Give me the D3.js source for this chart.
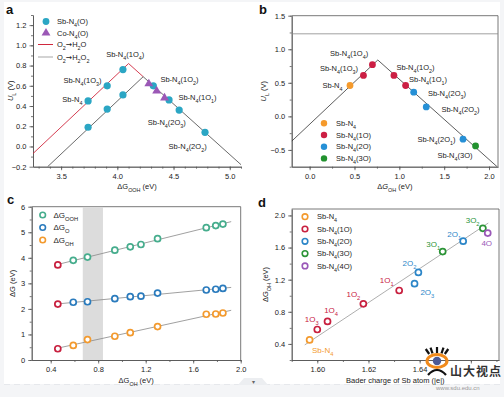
<!DOCTYPE html>
<html>
<head>
<meta charset="utf-8">
<script src="https://cdn.jsdelivr.net/npm/d3@7"></script>
<style>
  html, body { margin: 0; padding: 0; background: #f4f5f7; }
  svg { display: block; font-family: "Liberation Sans", Arial, sans-serif; }
</style>
</head>
<body>
<div id="chart"></div>
<script>
// ---------- panel a : U_L vs dG_OOH ----------
const aSbX = [3.74, 3.74, 3.91, 3.91, 4.05, 4.05, 4.32, 4.46, 4.55, 4.78];
const aSbY = [0.45, 0.19, 0.60, 0.37, 0.76, 0.51, 0.60, 0.46, 0.36, 0.14];
const aCoX = [4.28, 4.35, 4.42];
const aCoY = [0.62, 0.55, 0.48];
const aRedLine = [[3.25, -0.07], [4.10, 0.82], [4.23, 0.69]];
const aGrayLine = [[3.38, -0.20], [4.23, 0.69], [5.10, -0.18]];
const aLabels = [
  ["Sb-N_4(1O_4)", 4.07, 0.915], ["Sb-N_4(1O_3)", 3.69, 0.657], ["Sb-N_4", 3.60, 0.47],
  ["Sb-N_4(1O_2)", 4.553, 0.667], ["Sb-N_4(1O_1)", 4.713, 0.49],
  ["Sb-N_4(2O_3)", 4.44, 0.242], ["Sb-N_4(2O_2)", 4.625, 0.005]
];

// ---------- panel b : U_L vs dG_OH ----------
const bX = [0.45, 0.60, 0.70, 0.94, 1.07, 1.16, 1.30, 1.71, 1.85];
const bY = [0.46, 0.61, 0.77, 0.61, 0.46, 0.36, 0.14, -0.34, -0.44];
const bGroup = ["N4", "1O", "1O", "1O", "1O", "2O", "2O", "2O", "3O"];
const bLine = [[-0.2, -0.37], [0.76, 0.84], [2.09, -0.75]];
const bRef = 1.23;
const bLabels = [
  ["Sb-N_4(1O_4)", 0.44, 0.944], ["Sb-N_4(1O_3)", 0.327, 0.72], ["Sb-N_4", 0.255, 0.468],
  ["Sb-N_4(1O_2)", 1.18, 0.736], ["Sb-N_4(1O_1)", 1.32, 0.557], ["Sb-N_4(2O_3)", 1.531, 0.348],
  ["Sb-N_4(2O_2)", 1.682, 0.11], ["Sb-N_4(2O_1)", 1.414, -0.337], ["Sb-N_4(3O)", 1.62, -0.576]
];
const bLegend = [["N4", "Sb-N_4"], ["1O", "Sb-N_4(1O)"], ["2O", "Sb-N_4(2O)"], ["3O", "Sb-N_4(3O)"]];

// ---------- panel c : dG vs dG_OH ----------
const cX = [0.46, 0.59, 0.71, 0.94, 1.07, 1.16, 1.30, 1.71, 1.79, 1.85];
const cOOH = [3.72, 3.90, 4.03, 4.30, 4.43, 4.52, 4.75, 5.18, 5.26, 5.32];
const cO = [2.19, 2.26, 2.28, 2.40, 2.48, 2.50, 2.62, 2.74, 2.77, 2.80];
const cOH = [0.44, 0.57, 0.80, 0.93, 1.07, null, 1.31, 1.79, 1.80, 1.84];
const cBand = [0.67, 0.84];
const cFitRange = [0.46, 1.92];

// ---------- panel d : dG_OH vs Bader charge ----------
const dX = [1.597, 1.600, 1.604, 1.618, 1.632, 1.638, 1.6395, 1.649, 1.657, 1.6647, 1.6666];
const dY = [0.45, 0.58, 0.68, 0.90, 1.065, 1.15, 1.29, 1.55, 1.68, 1.84, 1.78];
const dGroup = ["N4", "1O", "1O", "1O", "1O", "2O", "2O", "3O", "2O", "3O", "4O"];
const dLabels = [
  ["1O_3", "1O", 1.5978, 0.711], ["1O_4", "1O", 1.6054, 0.823], ["1O_2", "1O", 1.6141, 1.018],
  ["1O_1", "1O", 1.6271, 1.196], ["2O_2", "2O", 1.636, 1.404], ["2O_3", "2O", 1.643, 1.043],
  ["3O_1", "3O", 1.6453, 1.64], ["2O_1", "2O", 1.6535, 1.764], ["3O_2", "3O", 1.6607, 1.942],
  ["4O", "4O", 1.6662, 1.66], ["Sb-N_4", "N4", 1.6021, 0.325]
];
const dLine = [[1.5951, 0.388], [1.6668, 1.905]];
const dLegend = [["N4", "Sb-N_4"], ["1O", "Sb-N_4(1O)"], ["2O", "Sb-N_4(2O)"], ["3O", "Sb-N_4(3O)"], ["4O", "Sb-N_4(4O)"]];

const colB = { N4: "#f59a2c", "1O": "#cc1f44", "2O": "#2690d6", "3O": "#22922f", "4O": "#9a58b8" };
const colD = { N4: "#f39a2e", "1O": "#c8203f", "2O": "#2c86c8", "3O": "#2c9437", "4O": "#9a58b8" };
const teal = "#2ba6c4";
const axisCol = "#555";
const txtCol = "#222";

const W = 504, H = 397;
const svg = d3.select("#chart").append("svg").attr("width", W).attr("height", H);

// page backdrop
svg.append("rect").attr("x", 4).attr("y", 2).attr("width", 496).attr("height", 382).attr("fill", "#fff");
svg.append("line").attr("x1", 4).attr("x2", 500).attr("y1", 384.5).attr("y2", 384.5)
  .attr("stroke", "#e6e8ec").attr("stroke-dasharray", "6,4");
svg.append("path").attr("d", "M238,385 L244,378 L262,378 L268,385 Z").attr("fill", "#eceef1");
svg.append("text").attr("x", 253).attr("y", 384).attr("text-anchor", "middle")
  .style("font-size", "6px").style("fill", "#666").text("▾");

// subscript / italic text helper:  _x or _{xx} -> subscript, *x* -> italic
function rich(t, s) {
  const re = /_\{([^}]*)\}|_(.)|\*([^*]*)\*|(→)|([^_*→]+)/g;
  let m;
  while ((m = re.exec(s))) {
    if (m[1] !== undefined || m[2] !== undefined) {
      t.append("tspan").attr("baseline-shift", "sub").style("font-size", "72%").text(m[1] !== undefined ? m[1] : m[2]);
    } else if (m[3] !== undefined) {
      t.append("tspan").style("font-style", "italic").text(m[3]);
    } else if (m[4] !== undefined) {
      t.append("tspan").style("font-family", "DejaVu Sans").text(m[4]);
    } else {
      t.append("tspan").text(m[5]);
    }
  }
  return t;
}

function label(g, s, x, y, opt = {}) {
  const t = g.append("text").attr("x", x).attr("y", y)
    .attr("text-anchor", opt.anchor || "middle")
    .attr("dy", "0.35em")
    .style("font-size", (opt.size || 7.5) + "px")
    .style("fill", opt.color || txtCol);
  if (opt.rotate) t.attr("transform", `rotate(-90,${x},${y})`);
  return rich(t, s);
}

function panel(cfg) {
  const x = d3.scaleLinear().domain(cfg.xd).range(cfg.xr);
  const y = d3.scaleLinear().domain(cfg.yd).range(cfg.yr);
  const g = svg.append("g");
  const styleAxis = sel => {
    sel.selectAll("path, line").attr("stroke", axisCol).attr("stroke-width", 0.8);
    sel.selectAll("text").style("font-size", "7.5px").style("fill", txtCol)
      .style("font-family", "Liberation Sans, Arial, sans-serif");
  };
  // minor ticks
  g.append("g").attr("transform", `translate(0,${cfg.yr[0]})`)
    .call(d3.axisBottom(x).tickValues(cfg.xMinor).tickSize(2).tickSizeOuter(0).tickFormat(""))
    .call(styleAxis);
  g.append("g").attr("transform", `translate(${cfg.xr[0]},0)`)
    .call(d3.axisLeft(y).tickValues(cfg.yMinor).tickSize(2).tickSizeOuter(0).tickFormat(""))
    .call(styleAxis);
  // major ticks
  g.append("g").attr("transform", `translate(0,${cfg.yr[0]})`)
    .call(d3.axisBottom(x).tickValues(cfg.xMajor).tickSize(3.5).tickSizeOuter(0).tickPadding(3).tickFormat(cfg.xFmt))
    .call(styleAxis);
  g.append("g").attr("transform", `translate(${cfg.xr[0]},0)`)
    .call(d3.axisLeft(y).tickValues(cfg.yMajor).tickSize(3.5).tickSizeOuter(0).tickPadding(3).tickFormat(cfg.yFmt))
    .call(styleAxis);
  if (cfg.box) {
    g.append("path")
      .attr("d", `M${cfg.xr[0]},${cfg.yr[1]}H${cfg.xr[1]}V${cfg.yr[0]}`)
      .attr("fill", "none").attr("stroke", axisCol).attr("stroke-width", 0.8);
  }
  const clipId = "clip" + cfg.id;
  svg.append("clipPath").attr("id", clipId).append("rect")
    .attr("x", cfg.xr[0]).attr("y", cfg.yr[1])
    .attr("width", cfg.xr[1] - cfg.xr[0]).attr("height", cfg.yr[0] - cfg.yr[1]);
  const plot = svg.append("g").attr("clip-path", `url(#${clipId})`);
  const over = svg.append("g");
  // panel letter and axis titles
  svg.append("text").attr("x", cfg.letter[0]).attr("y", cfg.letter[1])
    .style("font-size", "13px").style("font-weight", "bold").style("fill", "#111").text(cfg.id);
  label(svg, cfg.xTitle, cfg.xTitlePos || (cfg.xr[0] + cfg.xr[1]) / 2, cfg.yr[0] + 20, { size: 7.5 });
  label(svg, cfg.yTitle, cfg.yTitleX, (cfg.yr[0] + cfg.yr[1]) / 2, { size: 7.5, rotate: true });
  return { x, y, plot, over };
}

const f1 = d3.format(".1f");
const line = (x, y) => d3.line().x(d => x(d[0])).y(d => y(d[1]));
const range = (a, b, s) => d3.range(Math.round((b - a) / s) + 1).map(i => +(a + i * s).toFixed(3));

// ================= PANEL A =================
{
  const p = panel({
    id: "a", xd: [3.25, 5.1], xr: [33, 241], yd: [-0.2, 1.3], yr: [166.7, 15],
    xMajor: [3.5, 4.0, 4.5, 5.0], xMinor: range(3.3, 5.1, 0.1),
    yMajor: range(-0.2, 1.2, 0.2), yMinor: range(-0.1, 1.3, 0.1),
    xFmt: f1, yFmt: f1, box: false, letter: [6, 14],
    xTitle: "ΔG_{OOH} (eV)", yTitle: "*U*_L (V)", yTitleX: 10
  });
  const { x, y, plot, over } = p;
  plot.append("path").datum(aRedLine).attr("d", line(x, y))
    .attr("fill", "none").attr("stroke", "#d0283e").attr("stroke-width", 0.9);
  plot.append("path").datum(aGrayLine).attr("d", line(x, y))
    .attr("fill", "none").attr("stroke", "#444").attr("stroke-width", 0.8);
  over.selectAll("circle.sb").data(aSbX).join("circle").attr("class", "sb")
    .attr("cx", d => x(d)).attr("cy", (d, i) => y(aSbY[i])).attr("r", 3.6).attr("fill", teal);
  over.selectAll("path.co").data(aCoX).join("path").attr("class", "co")
    .attr("d", d3.symbol(d3.symbolTriangle, 34))
    .attr("transform", (d, i) => `translate(${x(d)},${y(aCoY[i])})`)
    .attr("fill", "#9b58b6");
  aLabels.forEach(([s, lx, ly]) => label(over, s, x(lx), y(ly)));
  // legend
  const lg = over.append("g");
  lg.append("circle").attr("cx", 46).attr("cy", 21.5).attr("r", 3.4).attr("fill", teal);
  label(lg, "Sb-N_4(O)", 57, 21.5, { anchor: "start" });
  lg.append("path").attr("d", d3.symbol(d3.symbolTriangle, 34)).attr("transform", "translate(46,33)").attr("fill", "#9b58b6");
  label(lg, "Co-N_4(O)", 57, 33, { anchor: "start" });
  lg.append("line").attr("x1", 38).attr("x2", 53).attr("y1", 44.5).attr("y2", 44.5).attr("stroke", "#d0283e").attr("stroke-width", 1);
  label(lg, "O_2→H_2O", 57, 44.5, { anchor: "start" });
  lg.append("line").attr("x1", 38).attr("x2", 53).attr("y1", 57).attr("y2", 57).attr("stroke", "#c4c4c4").attr("stroke-width", 1.5);
  label(lg, "O_2→H_2O_2", 57, 57, { anchor: "start" });
}

// ================= PANEL B =================
{
  const p = panel({
    id: "b", xd: [-0.2, 2.1], xr: [291.7, 498], yd: [-0.75, 1.5], yr: [166.7, 15.7],
    xMajor: [0, 0.5, 1.0, 1.5, 2.0], xMinor: range(-0.25, 2.0, 0.25).filter(v => v >= -0.2),
    yMajor: [-0.5, 0, 0.5, 1.0, 1.5], yMinor: range(-0.75, 1.5, 0.25),
    xFmt: f1, yFmt: f1, box: true, letter: [259, 14],
    xTitle: "Δ*G*_{OH} (eV)", yTitle: "*U*_L (V)", yTitleX: 263
  });
  const { x, y, plot, over } = p;
  plot.append("line").attr("x1", x(-0.2)).attr("x2", x(2.1)).attr("y1", y(bRef)).attr("y2", y(bRef))
    .attr("stroke", "#888").attr("stroke-width", 0.8);
  plot.append("path").datum(bLine).attr("d", line(x, y))
    .attr("fill", "none").attr("stroke", "#333").attr("stroke-width", 0.8);
  over.selectAll("circle").data(bX).join("circle")
    .attr("cx", d => x(d)).attr("cy", (d, i) => y(bY[i])).attr("r", 3.4)
    .attr("fill", (d, i) => colB[bGroup[i]]);
  bLabels.forEach(([s, lx, ly]) => label(over, s, x(lx), y(ly)));
  bLegend.forEach(([k, s], i) => {
    over.append("circle").attr("cx", 324).attr("cy", 123.3 + i * 11.7).attr("r", 3.2).attr("fill", colB[k]);
    label(over, s, 336, 123.3 + i * 11.7, { anchor: "start" });
  });
}

// ================= PANEL C =================
{
  const p = panel({
    id: "c", xd: [0.24, 2.0], xr: [31.7, 240.7], yd: [0, 6], yr: [360, 206.7],
    xMajor: [0.4, 0.8, 1.2, 1.6, 2.0], xMinor: range(0.4, 2.0, 0.2),
    yMajor: range(0, 6, 1), yMinor: range(0, 6, 0.5),
    xFmt: f1, yFmt: d3.format("d"), box: true, letter: [7, 204],
    xTitle: "ΔG_{OH} (eV)", yTitle: "ΔG (eV)", yTitleX: 12
  });
  const { x, y, plot, over } = p;
  plot.append("rect").attr("x", x(cBand[0])).attr("width", x(cBand[1]) - x(cBand[0]))
    .attr("y", y(6)).attr("height", y(0) - y(6)).attr("fill", "#dcdcdc");
  const series = [["OOH", cOOH, "#46ad8d"], ["O", cO, "#2a7bbd"], ["OH", cOH, "#f39a2e"]];
  series.forEach(([k, vals, col]) => {
    const pts = cX.map((v, i) => [v, vals[i]]).filter(d => d[1] !== null);
    const mx = d3.mean(pts, d => d[0]), my = d3.mean(pts, d => d[1]);
    const slope = d3.sum(pts, d => (d[0] - mx) * (d[1] - my)) / d3.sum(pts, d => (d[0] - mx) ** 2);
    const fit = cFitRange.map(v => [v, my + slope * (v - mx)]);
    plot.append("path").datum(fit).attr("d", line(x, y))
      .attr("fill", "none").attr("stroke", "#888").attr("stroke-width", 0.8);
    over.selectAll("circle." + k).data(pts).join("circle").attr("class", k)
      .attr("cx", d => x(d[0])).attr("cy", d => y(d[1])).attr("r", 3)
      .attr("fill", "#fff").attr("stroke", (d, i) => i === 0 ? "#c8203f" : col).attr("stroke-width", 1.7);
  });
  const cLegend = [["ΔG_{OOH}", "#46ad8d"], ["ΔG_O", "#2a7bbd"], ["ΔG_{OH}", "#f39a2e"]];
  cLegend.forEach(([s, col], i) => {
    over.append("circle").attr("cx", 42.7).attr("cy", 215 + i * 12.5).attr("r", 2.8)
      .attr("fill", "#fff").attr("stroke", col).attr("stroke-width", 1.6);
    label(over, s, 53.5, 215 + i * 12.5, { anchor: "start", size: 8 });
  });
}

// ================= PANEL D =================
{
  const p = panel({
    id: "d", xd: [1.59, 1.671], xr: [291.7, 499], yd: [0.2, 2.08], yr: [360, 209],
    xMajor: [1.60, 1.62, 1.64, 1.66], xMinor: range(1.59, 1.67, 0.01),
    yMajor: [0.4, 0.8, 1.2, 1.6, 2.0], yMinor: range(0.2, 2.0, 0.2),
    xFmt: d => d > 1.65 ? "" : d3.format(".2f")(d), yFmt: f1, box: true, letter: [258, 207],
    xTitle: "Bader charge of Sb atom (|e|)", yTitle: "ΔG_{OH} (eV)", yTitleX: 265
  });
  const { x, y, plot, over } = p;
  plot.append("path").datum(dLine).attr("d", line(x, y))
    .attr("fill", "none").attr("stroke", "#999").attr("stroke-width", 0.8);
  over.selectAll("circle.pt").data(dX).join("circle").attr("class", "pt")
    .attr("cx", d => x(d)).attr("cy", (d, i) => y(dY[i])).attr("r", 3)
    .attr("fill", "#fff").attr("stroke", (d, i) => colD[dGroup[i]]).attr("stroke-width", 1.7);
  dLabels.forEach(([s, k, lx, ly]) => label(over, s, x(lx), y(ly), { color: colD[k], size: 8 }));
  dLegend.forEach(([k, s], i) => {
    over.append("circle").attr("cx", 305).attr("cy", 216.7 + i * 12.3).attr("r", 2.8)
      .attr("fill", "#fff").attr("stroke", colD[k]).attr("stroke-width", 1.6);
    label(over, s, 317, 216.7 + i * 12.3, { anchor: "start" });
  });
}

// ================= watermark =================
{
  const wm = svg.append("g");
  const cx = 437, cy = 361;
  wm.append("rect").attr("x", 449).attr("y", 364).attr("width", 51).attr("height", 15).attr("fill", "#fff").attr("opacity", 0.9);
  [-60, -30, 0, 30, 60].forEach(a => {
    const r = a * Math.PI / 180;
    wm.append("line")
      .attr("x1", cx + Math.sin(r) * 9).attr("y1", cy - 6 - Math.cos(r) * 2)
      .attr("x2", cx + Math.sin(r) * 13).attr("y2", cy - 10 - Math.cos(r) * 4)
      .attr("stroke", "#111").attr("stroke-width", 2.2);
  });
  wm.append("ellipse").attr("cx", cx).attr("cy", cy).attr("rx", 10).attr("ry", 6.5)
    .attr("fill", "none").attr("stroke", "#f08a1c").attr("stroke-width", 3);
  wm.append("circle").attr("cx", cx).attr("cy", cy).attr("r", 4.2).attr("fill", "#4c5a96");
  wm.append("path").attr("d", `M${cx - 9},${cy + 14} Q${cx},${cy + 4} ${cx + 9},${cy + 14}`)
    .attr("fill", "none").attr("stroke", "#111").attr("stroke-width", 2.2);
  wm.append("text").attr("x", 450).attr("y", 376)
    .style("font-family", "'Noto Sans CJK SC', sans-serif").style("font-size", "12px")
    .style("font-weight", "bold").style("fill", "#333").style("letter-spacing", "1px").text("山大视点");
  wm.append("text").attr("x", 436).attr("y", 390)
    .style("font-size", "6px").style("fill", "#999").text("www.sdu.edu.cn");
}
</script>
</body>
</html>
